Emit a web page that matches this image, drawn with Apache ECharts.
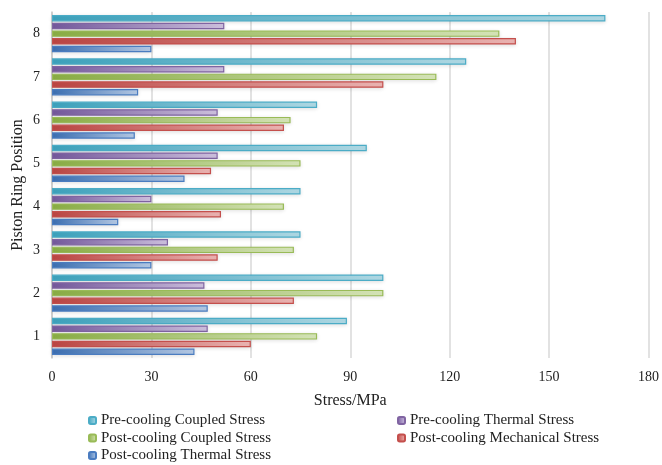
<!DOCTYPE html>
<html>
<head>
<meta charset="utf-8">
<script src="https://cdn.jsdelivr.net/npm/echarts@6/dist/echarts.min.js"></script>
<style>
  html, body { margin: 0; padding: 0; background: #fff; }
  #chart { width: 662px; height: 465px; }
</style>
</head>
<body>
<div id="chart"></div>
<script>
const positions = ['1', '2', '3', '4', '5', '6', '7', '8'];
const xTicks = [0, 30, 60, 90, 120, 150, 180];
const preCoupled = [89, 100, 75, 75, 95, 80, 125, 167];
const preThermal = [47, 46, 35, 30, 50, 50, 52, 52];
const postCoupled = [80, 100, 73, 70, 75, 72, 116, 135];
const postMechanical = [60, 73, 50, 51, 48, 70, 100, 140];
const postThermal = [43, 47, 30, 20, 40, 25, 26, 30];

const font = "'Liberation Serif', 'Times New Roman', serif";

function barStyle(dark, light, border) {
  return {
    color: new echarts.graphic.LinearGradient(0, 0, 1, 0, [
      { offset: 0, color: dark },
      { offset: 1, color: light }
    ]),
    borderColor: border,
    borderWidth: 1.2,
    shadowBlur: 4,
    shadowColor: 'rgba(0,0,0,0.12)',
    shadowOffsetY: 1
  };
}

// first series ends up at the top of each band here
const seriesDefs = [
  { name: 'Pre-cooling Coupled Stress', data: preCoupled, style: barStyle('#3ea5c0', '#b3dde9', '#4bacc6') },
  { name: 'Pre-cooling Thermal Stress', data: preThermal, style: barStyle('#765a9f', '#d2c5e3', '#8064a2') },
  { name: 'Post-cooling Coupled Stress', data: postCoupled, style: barStyle('#8cb046', '#d9e8bb', '#99bb57') },
  { name: 'Post-cooling Mechanical Stress', data: postMechanical, style: barStyle('#bf4744', '#f0b8b6', '#c44f4c') },
  { name: 'Post-cooling Thermal Stress', data: postThermal, style: barStyle('#3d71b5', '#b8cde9', '#4a7cc0') }
];

const legendText = { fontFamily: font, fontSize: 15, color: '#222', lineHeight: 15 };

const chart = echarts.init(document.getElementById('chart'));
chart.setOption({
  animation: false,
  textStyle: { fontFamily: font },
  grid: { left: 52, right: 11, top: 12, bottom: 107 },
  legend: [{
    orient: 'vertical',
    left: 88,
    top: 413,
    height: 60,
    padding: 0,
    itemWidth: 7,
    itemHeight: 7,
    itemGap: 2.5,
    textStyle: legendText,
    data: ['Pre-cooling Coupled Stress', 'Post-cooling Coupled Stress', 'Post-cooling Thermal Stress']
  }, {
    orient: 'vertical',
    left: 397,
    top: 413,
    height: 60,
    padding: 0,
    itemWidth: 7,
    itemHeight: 7,
    itemGap: 2.5,
    textStyle: legendText,
    data: ['Pre-cooling Thermal Stress', 'Post-cooling Mechanical Stress']
  }],
  xAxis: {
    type: 'value',
    min: xTicks[0],
    max: xTicks[xTicks.length - 1],
    interval: 30,
    name: 'Stress/MPa',
    nameLocation: 'middle',
    nameGap: 35,
    nameTextStyle: { fontFamily: font, fontSize: 16, color: '#222' },
    axisLine: { show: false },
    axisTick: { show: false },
    axisLabel: { fontFamily: font, fontSize: 14, color: '#222', margin: 12 },
    splitLine: { lineStyle: { color: '#d9d9d9', width: 1.5 } }
  },
  yAxis: {
    type: 'category',
    data: positions,
    name: 'Piston Ring Position',
    nameLocation: 'middle',
    nameGap: 26,
    nameMoveOverlap: false,
    nameTextStyle: { fontFamily: font, fontSize: 16, color: '#222' },
    axisLine: { lineStyle: { color: '#c8c8c8', width: 1.5 } },
    axisTick: { show: false },
    axisLabel: { fontFamily: font, fontSize: 14, color: '#222', margin: 12 }
  },
  series: seriesDefs.map(s => ({
    name: s.name,
    type: 'bar',
    data: s.data,
    barCategoryGap: '14%',
    barGap: '20%',
    itemStyle: s.style
  }))
});

window.addEventListener('resize', function() {
  chart.resize();
});
</script>
</body>
</html>
